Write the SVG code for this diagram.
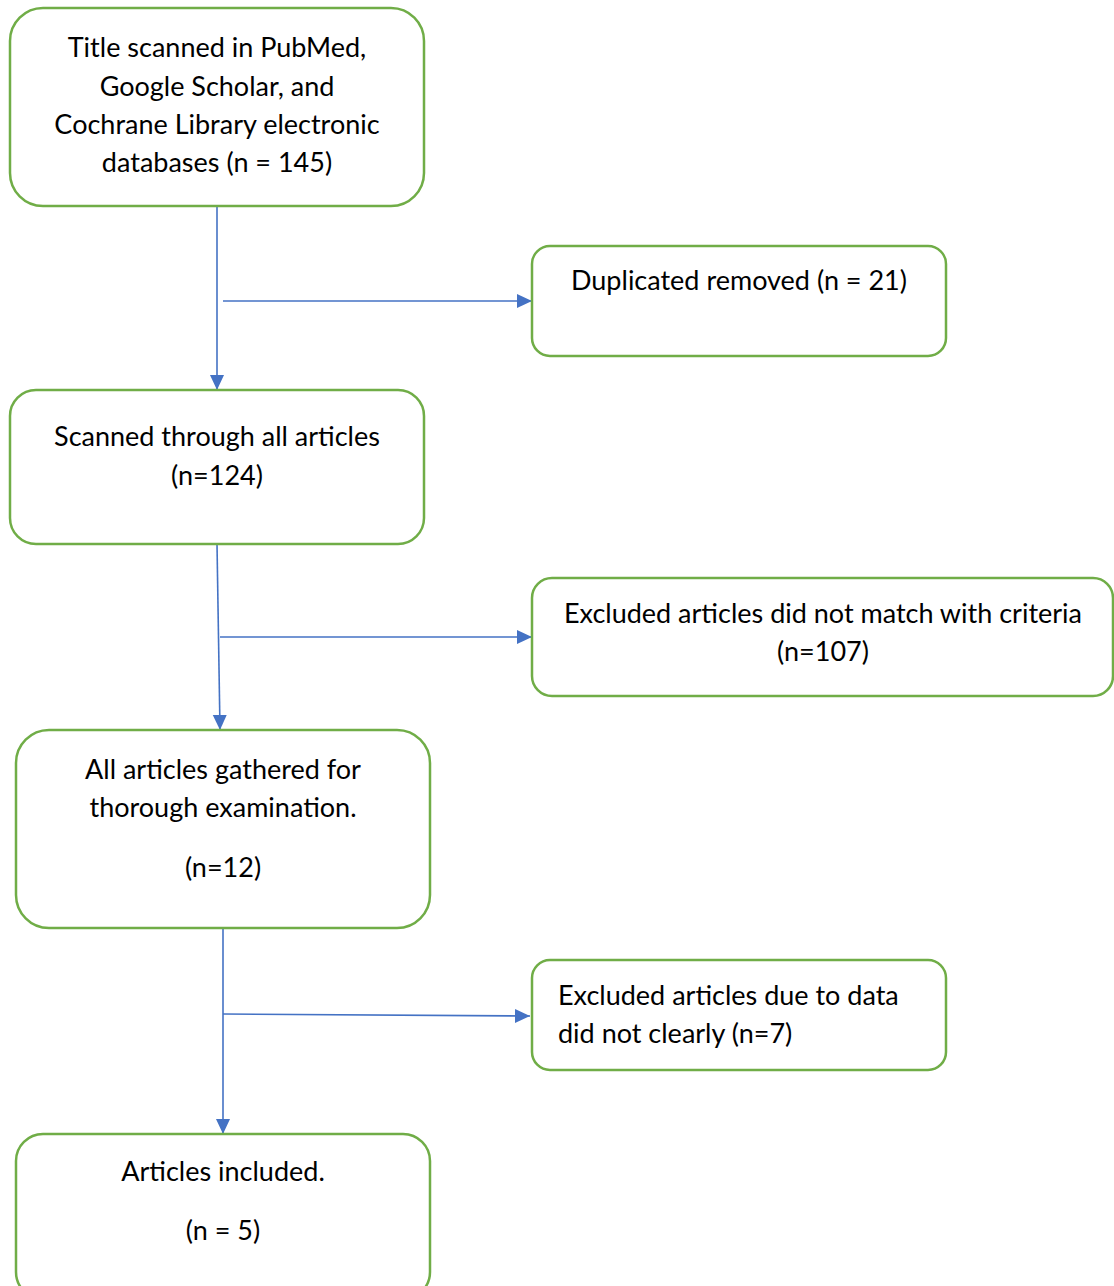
<svg xmlns="http://www.w3.org/2000/svg" width="1114" height="1286" viewBox="0 0 1114 1286">
<style>
.box{fill:#fff;stroke:#70AD47;stroke-width:2.5}
.t{font-family:Lato,"Open Sans","Liberation Sans",sans-serif;font-size:27px;fill:#000}
.c{text-anchor:middle}
.ln{stroke:#4472C4;stroke-width:1.6;fill:none}
</style>
<defs>
<marker id="ah" markerUnits="userSpaceOnUse" markerWidth="16" markerHeight="16" viewBox="0 0 16 16" refX="15" refY="8" orient="auto">
<path d="M0,1 L15,8 L0,15 Z" fill="#4472C4"/>
</marker>
</defs>
<rect width="1114" height="1286" fill="#fff"/>
<g id="connectors">
<line class="ln" x1="217" y1="206" x2="217" y2="390" marker-end="url(#ah)"/>
<line class="ln" x1="223" y1="301" x2="532" y2="301" marker-end="url(#ah)"/>
<line class="ln" x1="217" y1="544" x2="220" y2="730" marker-end="url(#ah)"/>
<line class="ln" x1="220" y1="637" x2="532" y2="637" marker-end="url(#ah)"/>
<line class="ln" x1="223" y1="928" x2="223" y2="1134" marker-end="url(#ah)"/>
<line class="ln" x1="223" y1="1014" x2="530" y2="1016" marker-end="url(#ah)"/>
</g>
<g id="n1">
<rect class="box" x="10" y="8" width="414" height="198" rx="33"/>
<text class="t c" x="217" y="57">Title scanned in PubMed,</text>
<text class="t c" x="217" y="95.5">Google Scholar, and</text>
<text class="t c" x="217" y="134">Cochrane Library electronic</text>
<text class="t c" x="217" y="172">databases (n = 145)</text>
</g>
<g id="n2">
<rect class="box" x="532" y="246" width="414" height="110" rx="18"/>
<text class="t c" x="739" y="290">Duplicated removed (n = 21)</text>
</g>
<g id="n3">
<rect class="box" x="10" y="390" width="414" height="154" rx="26"/>
<text class="t c" x="217" y="446">Scanned through all articles</text>
<text class="t c" x="217" y="485">(n=124)</text>
</g>
<g id="n4">
<rect class="box" x="532" y="578" width="581" height="118" rx="20"/>
<text class="t c" x="823" y="623">Excluded articles did not match with criteria</text>
<text class="t c" x="823" y="661">(n=107)</text>
</g>
<g id="n5">
<rect class="box" x="16" y="730" width="414" height="198" rx="33"/>
<text class="t c" x="223" y="779">All articles gathered for</text>
<text class="t c" x="223" y="817">thorough examination.</text>
<text class="t c" x="223" y="877">(n=12)</text>
</g>
<g id="n6">
<rect class="box" x="532" y="960" width="414" height="110" rx="18"/>
<text class="t" x="558" y="1005">Excluded articles due to data</text>
<text class="t" x="558" y="1043">did not clearly (n=7)</text>
</g>
<g id="n7">
<rect class="box" x="16" y="1134" width="414" height="165" rx="27"/>
<text class="t c" x="223" y="1181">Articles included.</text>
<text class="t c" x="223" y="1240">(n = 5)</text>
</g>
</svg>
